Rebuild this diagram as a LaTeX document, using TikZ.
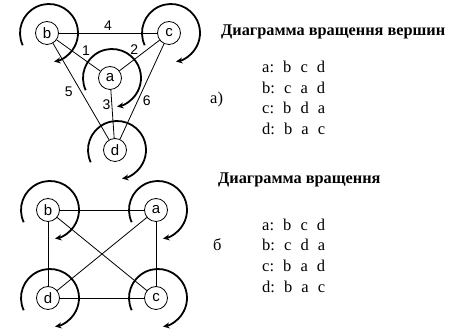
\documentclass[tikz,border=0pt]{standalone}
\usepackage{fontspec}
\setmainfont{Liberation Serif}
\newfontfamily\arialfont{Liberation Sans}
\usetikzlibrary{arrows.meta}
\newcommand{\rgap}{\hspace{.55em}}

\begin{document}
\begin{tikzpicture}[x=1pt,y=1pt,
  vert/.style={circle,draw,line width=.8pt,minimum size=23pt,inner sep=0pt,font=\arialfont\fontsize{15}{15}\selectfont},
  edge/.style={line width=.8pt},
  rot/.style={line width=1.8pt,-{Stealth[length=6.5pt,width=6pt]}},
  lbl/.style={font=\arialfont\fontsize{14}{14}\selectfont,inner sep=1pt},
  title/.style={font=\bfseries\fontsize{16.3}{16.3}\selectfont,anchor=west,inner sep=0pt},
  row/.style={font=\fontsize{16.5}{16.5}\selectfont,anchor=west,inner sep=0pt}]
\useasboundingbox (0,0) rectangle (451,334);
% graph a)
\node[vert] (b1) at (47,301) {b};
\node[vert] (c1) at (169,301) {c};
\node[vert] (a1) at (110,256) {a};
\node[vert] (d1) at (115,184) {d};
\draw[edge] (b1) -- node[lbl,above=1pt] {4} (c1);
\draw[edge] (b1) -- node[lbl,above right=0pt,pos=.55] {1} (a1);
\draw[edge] (c1) -- node[lbl,above left=0pt,pos=.5] {2} (a1);
\draw[edge] (b1) -- node[lbl,left=7pt] {5} (d1);
\draw[edge] (a1) -- node[lbl,left,pos=.3] {3} (d1);
\draw[edge] (c1) -- node[lbl,right=4pt,pos=.6] {6} (d1);
% graph b)
\node[vert] (b2) at (48,124) {b};
\node[vert] (a2) at (156,124) {a};
\node[vert] (d2) at (48,36) {d};
\node[vert] (c2) at (156,36) {c};
\draw[edge] (b2) -- (a2);
\draw[edge] (b2) -- (d2);
\draw[edge] (a2) -- (c2);
\draw[edge] (d2) -- (c2);
\draw[edge] (b2) -- (c2);
\draw[edge] (a2) -- (d2);
% rotation arrows
\foreach \v in {a1,b1,c1,d1,a2,b2,c2,d2}
  \draw[rot] (\v.center) ++(2,0) ++(205:29) arc[start angle=205,end angle=-80,radius=29];
% rotation lists
\node[title] (t1) at (221,302) {Диаграмма вращення вершин};
\node[row] (s1) at (210,234) {а)};
\node[row] (r1a) at (262,267) {a:\rgap b\rgap c\rgap d};
\node[row] (r1b) at (262,246) {b:\rgap c\rgap a\rgap d};
\node[row] (r1c) at (262,226) {c:\rgap b\rgap d\rgap a};
\node[row] (r1d) at (262,205) {d:\rgap b\rgap a\rgap c};
\node[title] (t2) at (218,154) {Диаграмма вращення};
\node[row] (s2) at (213,89) {б};
\node[row] (r2a) at (262,109) {a:\rgap b\rgap c\rgap d};
\node[row] (r2b) at (262,89) {b:\rgap c\rgap d\rgap a};
\node[row] (r2c) at (262,68) {c:\rgap b\rgap a\rgap d};
\node[row] (r2d) at (262,47) {d:\rgap b\rgap a\rgap c};
\end{tikzpicture}
\end{document}
